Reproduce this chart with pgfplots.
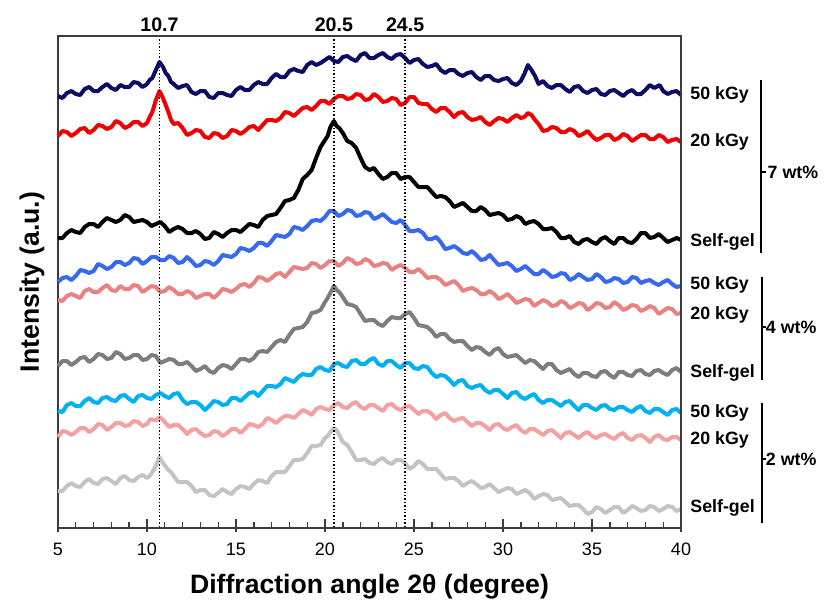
\documentclass[border=0pt]{standalone}
\usepackage{pgfplots}
\pgfplotsset{compat=1.18}
\usepackage{fontspec}
\setmainfont{Liberation Sans}
\definecolor{cnavy}{RGB}{12,12,100}
\definecolor{cred}{RGB}{240,0,0}
\definecolor{cblue}{RGB}{55,105,240}
\definecolor{csalmon}{RGB}{232,130,130}
\definecolor{cgray}{RGB}{125,125,125}
\definecolor{ccyan}{RGB}{0,176,240}
\definecolor{cpink}{RGB}{242,160,160}
\definecolor{clgray}{RGB}{195,195,195}
\definecolor{cframe}{RGB}{60,60,60}
\begin{document}
\begin{tikzpicture}
\path[use as bounding box] (-29pt,-36.5pt) rectangle (386pt,264pt);
\begin{axis}[
  name=main,
  at={(0,0)}, anchor=south west,
  scale only axis, width=311.5pt, height=246pt,
  xmin=5, xmax=40, ymin=36, ymax=528, y dir=reverse,
  clip=false,
  axis line style={line width=0.9pt, cframe},
  ytick=\empty,
  xtick={5,10,...,40}, minor x tick num=4,
  xtick pos=bottom,
  tick align=inside,
  major tick length=6.5pt, minor tick length=2.8pt,
  every major tick/.append style={yshift=-2.2pt, line width=0.8pt, cframe},
  every minor tick/.append style={line width=0.7pt, cframe},
  tick label style={font=\fontsize{9}{10}\selectfont},
  /pgf/number format/assume math mode=true,
  xticklabel style={yshift=-4pt},
  xlabel={\bfseries Diffraction angle 2θ (degree)},
  xlabel style={font=\fontsize{13.3}{15}\selectfont, at={(axis description cs:0.5,0)}, anchor=center, yshift=-29.5pt},
  ylabel={\bfseries Intensity (a.u.)},
  ylabel style={font=\fontsize{13.3}{15}\selectfont, at={(axis description cs:-0.0417,0.5)}, anchor=center},
  every axis plot/.append style={line width=2pt, line join=round, mark=none},
]
% 7 wt% 50 kGy
\addplot[cnavy] coordinates {(5,96)(5.25,98)(5.5,93)(5.75,91)(6,94)(6.25,95)(6.5,89)(6.75,87)(7,91)(7.25,91)(7.5,87)(7.75,84)(8,88)(8.25,90)(8.5,85)(8.75,87)(9,87)(9.25,82)(9.5,83)(9.75,87)(10,84)(10.15,80)(10.3,78)(10.5,70)(10.7,62)(10.9,67)(11.05,73)(11.2,76)(11.35,82)(11.5,84)(11.75,88)(12,86)(12.25,85)(12.5,92)(12.75,94)(13,91)(13.25,91)(13.5,97)(13.75,98)(14,93)(14.25,93)(14.5,95)(14.75,96)(15,90)(15.25,87)(15.5,90)(15.75,90)(16,85)(16.25,82)(16.5,84)(16.75,84)(17,78)(17.25,74)(17.5,77)(17.75,77)(18,71)(18.25,69)(18.5,71)(18.75,72)(19,65)(19.25,62)(19.5,65)(19.75,63)(20,60)(20.25,57)(20.5,61)(20.75,62)(21,57)(21.25,56)(21.5,59)(21.75,61)(22,55)(22.25,53)(22.5,58)(22.75,58)(23,55)(23.25,53)(23.5,57)(23.75,59)(24,55)(24.25,54)(24.5,58)(24.75,63)(25,60)(25.25,59)(25.5,64)(25.75,67)(26,66)(26.25,64)(26.5,70)(26.75,73)(27,70)(27.25,70)(27.5,74)(27.75,76)(28,73)(28.25,72)(28.5,77)(28.75,80)(29,76)(29.25,76)(29.5,80)(29.75,81)(30,79)(30.25,78)(30.5,83)(30.75,85)(31,81)(31.2,74)(31.4,65)(31.6,70)(31.8,76)(32,84)(32.25,81)(32.5,86)(32.75,88)(33,85)(33.25,85)(33.5,89)(33.75,92)(34,87)(34.25,86)(34.5,91)(34.75,93)(35,90)(35.25,89)(35.5,94)(35.75,95)(36,91)(36.25,90)(36.5,93)(36.75,96)(37,92)(37.25,90)(37.5,94)(37.75,94)(38,90)(38.25,85)(38.5,88)(38.8,85)(39,91)(39.25,94)(39.5,92)(39.75,91)(40,95)};
% 7 wt% 20 kGy
\addplot[cred] coordinates {(5,136)(5.25,131)(5.5,132)(5.75,136)(6,133)(6.25,129)(6.5,128)(6.75,133)(7,130)(7.25,125)(7.5,126)(7.75,129)(8,127)(8.25,121)(8.5,123)(8.75,128)(9,126)(9.25,122)(9.5,122)(9.75,126)(10,123)(10.15,117)(10.3,112)(10.5,100)(10.7,91)(10.9,98)(11.2,112)(11.35,120)(11.5,124)(11.75,123)(12,128)(12.25,135)(12.5,133)(12.75,130)(13,131)(13.25,137)(13.5,138)(13.75,133)(14,134)(14.25,138)(14.5,136)(14.75,130)(15,131)(15.25,134)(15.5,131)(15.75,127)(16,126)(16.25,130)(16.5,125)(16.75,120)(17,120)(17.25,121)(17.5,118)(17.75,112)(18,113)(18.25,116)(18.5,112)(18.75,108)(19,107)(19.25,110)(19.5,106)(19.75,101)(20,101)(20.25,104)(20.5,99)(20.75,96)(21,96)(21.25,99)(21.5,98)(21.75,94)(22,95)(22.25,100)(22.5,99)(22.75,94)(23,97)(23.25,102)(23.5,101)(23.75,98)(24,99)(24.25,105)(24.5,103)(24.75,97)(25,97)(25.25,103)(25.5,104)(25.75,104)(26,109)(26.25,112)(26.5,108)(26.75,108)(27,112)(27.25,117)(27.5,113)(27.75,112)(28,117)(28.25,120)(28.5,119)(28.75,117)(29,122)(29.25,125)(29.5,121)(29.75,118)(30,119)(30.25,122)(30.5,118)(30.75,115)(31,118)(31.2,117)(31.4,113)(31.6,115)(31.8,120)(32,124)(32.25,131)(32.5,130)(32.75,127)(33,128)(33.25,132)(33.5,132)(33.75,129)(34,131)(34.25,136)(34.5,134)(34.75,131)(35,136)(35.25,140)(35.5,138)(35.75,135)(36,135)(36.25,140)(36.5,138)(36.75,134)(37,136)(37.25,141)(37.5,138)(37.75,135)(38,135)(38.25,139)(38.5,139)(38.75,135)(39,137)(39.25,142)(39.5,140)(39.75,139)(40,142)};
% 7 wt% self-gel
\addplot[black] coordinates {(5,238)(5.25,238)(5.5,233)(5.75,230)(6,232)(6.25,233)(6.5,227)(6.75,224)(7,224)(7.25,227)(7.5,222)(7.75,218)(8,220)(8.25,222)(8.5,220)(8.75,215)(9,217)(9.25,222)(9.5,221)(9.75,220)(10,222)(10.25,226)(10.5,224)(10.75,222)(11,226)(11.25,232)(11.5,229)(11.75,227)(12,229)(12.25,233)(12.5,233)(12.75,231)(13,234)(13.25,239)(13.5,238)(13.75,232)(14,234)(14.25,237)(14.5,233)(14.75,230)(15,230)(15.25,232)(15.5,228)(15.75,224)(16,225)(16.25,227)(16.5,220)(16.75,216)(17,215)(17.25,214)(17.5,208)(17.75,201)(18,200)(18.25,198)(18.5,190)(18.75,179)(19,175)(19.25,170)(19.5,158)(19.75,147)(20,140)(20.15,136)(20.3,127)(20.5,121)(20.65,126)(20.8,128)(21,133)(21.25,141)(21.5,143)(21.75,148)(22,158)(22.25,167)(22.5,170)(22.75,168)(23,174)(23.25,179)(23.5,177)(23.75,173)(24,173)(24.25,179)(24.5,177)(24.75,177)(25,182)(25.25,187)(25.5,187)(25.75,187)(26,192)(26.25,197)(26.5,196)(26.75,197)(27,201)(27.25,207)(27.5,205)(27.75,203)(28,207)(28.25,211)(28.5,211)(28.75,207)(29,210)(29.25,215)(29.5,214)(29.75,213)(30,215)(30.25,220)(30.5,219)(30.75,216)(31,218)(31.25,224)(31.5,222)(31.75,221)(32,224)(32.25,229)(32.5,229)(32.75,228)(33,232)(33.25,238)(33.5,238)(33.75,236)(34,242)(34.25,244)(34.5,240)(34.75,239)(35,242)(35.25,244)(35.5,239)(35.75,237)(36,241)(36.25,244)(36.5,238)(36.75,238)(37,242)(37.25,243)(37.5,239)(37.75,233)(38,233)(38.25,238)(38.5,237)(38.75,234)(39,238)(39.25,242)(39.5,240)(39.75,238)(40,240)};
% 4 wt% 50 kGy
\addplot[cblue] coordinates {(5,282)(5.25,278)(5.5,277)(5.75,280)(6,276)(6.25,270)(6.5,271)(6.75,273)(7,271)(7.25,264)(7.5,266)(7.75,269)(8,267)(8.25,262)(8.5,262)(8.75,265)(9,263)(9.25,258)(9.5,259)(9.75,264)(10,261)(10.25,257)(10.5,257)(10.75,260)(11,260)(11.25,256)(11.5,258)(11.75,263)(12,262)(12.25,257)(12.5,261)(12.75,266)(13,265)(13.25,261)(13.5,262)(13.75,265)(14,261)(14.25,255)(14.5,256)(14.75,257)(15,254)(15.25,248)(15.5,249)(15.75,251)(16,248)(16.25,243)(16.5,243)(16.75,246)(17,241)(17.25,235)(17.5,236)(17.75,237)(18,234)(18.25,227)(18.5,228)(18.75,230)(19,226)(19.25,221)(19.5,220)(19.75,221)(20,217)(20.25,211)(20.5,211)(20.75,216)(21,214)(21.25,210)(21.5,211)(21.75,216)(22,215)(22.25,212)(22.5,213)(22.75,219)(23,217)(23.25,214)(23.5,218)(23.75,222)(24,223)(24.25,220)(24.5,225)(24.75,231)(25,231)(25.25,230)(25.5,233)(25.75,239)(26,239)(26.25,237)(26.5,242)(26.75,249)(27,248)(27.25,246)(27.5,249)(27.75,253)(28,254)(28.25,251)(28.5,255)(28.75,260)(29,259)(29.25,255)(29.5,260)(29.75,265)(30,264)(30.25,263)(30.5,266)(30.75,271)(31,269)(31.25,266)(31.5,270)(31.75,274)(32,274)(32.25,270)(32.5,273)(32.75,277)(33,276)(33.25,273)(33.5,274)(33.75,280)(34,278)(34.25,274)(34.5,277)(34.75,280)(35,279)(35.25,274)(35.5,277)(35.75,282)(36,281)(36.25,278)(36.5,279)(36.75,283)(37,282)(37.25,277)(37.5,278)(37.75,283)(38,281)(38.25,280)(38.5,283)(38.75,285)(39,282)(39.25,280)(39.5,284)(39.75,287)(40,286)};
% 4 wt% 20 kGy
\addplot[csalmon] coordinates {(5,300)(5.25,301)(5.5,296)(5.75,294)(6,296)(6.25,298)(6.5,291)(6.75,289)(7,292)(7.25,292)(7.5,288)(7.75,285)(8,290)(8.25,291)(8.5,286)(8.75,289)(9,289)(9.25,285)(9.5,286)(9.75,292)(10,289)(10.25,286)(10.5,287)(10.75,292)(11,291)(11.25,287)(11.5,290)(11.75,294)(12,294)(12.25,291)(12.5,293)(12.75,298)(13,296)(13.25,294)(13.5,294)(13.75,298)(14,294)(14.25,289)(14.5,290)(14.75,292)(15,289)(15.25,285)(15.5,284)(15.75,287)(16,283)(16.25,277)(16.5,278)(16.75,281)(17,278)(17.25,274)(17.5,273)(17.75,277)(18,272)(18.25,267)(18.5,268)(18.75,269)(19,268)(19.25,263)(19.5,264)(19.75,268)(20,265)(20.25,261)(20.5,261)(20.75,266)(21,263)(21.25,258)(21.5,260)(21.75,264)(22,263)(22.25,259)(22.5,261)(22.75,266)(23,265)(23.25,263)(23.5,264)(23.75,270)(24,267)(24.25,265)(24.5,268)(24.75,272)(25,272)(25.25,269)(25.5,273)(25.75,278)(26,277)(26.25,277)(26.5,280)(26.75,285)(27,283)(27.25,281)(27.5,285)(27.75,291)(28,289)(28.25,288)(28.5,290)(28.75,294)(29,294)(29.25,291)(29.5,294)(29.75,299)(30,297)(30.25,294)(30.5,298)(30.75,303)(31,301)(31.25,299)(31.5,300)(31.75,306)(32,303)(32.25,300)(32.5,302)(32.75,306)(33,305)(33.25,301)(33.5,303)(33.75,308)(34,306)(34.25,303)(34.5,304)(34.75,310)(35,307)(35.25,303)(35.5,304)(35.75,308)(36,307)(36.25,302)(36.5,305)(36.75,310)(37,308)(37.25,305)(37.5,306)(37.75,311)(38,309)(38.25,306)(38.5,308)(38.75,314)(39,311)(39.25,308)(39.5,309)(39.75,314)(40,313)};
% 4 wt% self-gel
\addplot[cgray] coordinates {(5,366)(5.25,361)(5.5,361)(5.75,365)(6,362)(6.25,358)(6.5,357)(6.75,362)(7,359)(7.25,354)(7.5,355)(7.75,359)(8,358)(8.25,352)(8.5,354)(8.75,359)(9,358)(9.25,355)(9.5,355)(9.75,360)(10,359)(10.25,355)(10.5,356)(10.75,363)(11,361)(11.25,359)(11.5,360)(11.75,364)(12,364)(12.25,362)(12.5,366)(12.75,371)(13,369)(13.25,366)(13.5,371)(13.75,373)(14,368)(14.25,365)(14.5,366)(14.75,369)(15,364)(15.25,359)(15.5,359)(15.75,361)(16,358)(16.25,352)(16.5,351)(16.75,352)(17,347)(17.25,342)(17.5,340)(17.75,342)(18,335)(18.25,329)(18.5,328)(18.75,327)(19,322)(19.25,313)(19.5,312)(19.75,310)(20,302)(20.15,298)(20.3,293)(20.5,286)(20.65,290)(20.8,292)(21,297)(21.25,304)(21.5,305)(21.75,307)(22,314)(22.25,321)(22.5,320)(22.75,320)(23,324)(23.25,326)(23.5,321)(23.75,317)(24,318)(24.25,318)(24.5,314)(24.75,312)(25,318)(25.25,325)(25.5,326)(25.75,327)(26,331)(26.25,337)(26.5,334)(26.75,334)(27,339)(27.25,342)(27.5,341)(27.75,341)(28,346)(28.25,350)(28.5,347)(28.75,348)(29,352)(29.25,355)(29.5,350)(29.75,348)(30,354)(30.25,357)(30.5,356)(30.75,355)(31,359)(31.25,363)(31.5,360)(31.75,361)(32,365)(32.25,369)(32.5,364)(32.75,364)(33,370)(33.25,373)(33.5,371)(33.75,369)(34,374)(34.25,377)(34.5,373)(34.75,373)(35,376)(35.25,377)(35.5,372)(35.75,371)(36,375)(36.25,378)(36.5,372)(36.75,372)(37,375)(37.25,376)(37.5,371)(37.75,370)(38,374)(38.25,375)(38.5,371)(38.75,370)(39,373)(39.25,375)(39.5,370)(39.75,368)(40,372)};
% 2 wt% 50 kGy
\addplot[ccyan] coordinates {(5,411)(5.25,412)(5.5,405)(5.75,403)(6,406)(6.25,406)(6.5,401)(6.75,398)(7,402)(7.25,403)(7.5,398)(7.75,397)(8,400)(8.25,401)(8.5,396)(8.75,395)(9,399)(9.25,402)(9.5,396)(9.75,395)(10,398)(10.25,399)(10.5,395)(10.75,393)(11,396)(11.25,398)(11.5,394)(11.75,393)(12,400)(12.25,404)(12.5,402)(12.75,402)(13,405)(13.25,410)(13.5,406)(13.75,401)(14,402)(14.25,405)(14.5,404)(14.75,398)(15,398)(15.25,401)(15.5,397)(15.75,393)(16,392)(16.25,396)(16.5,391)(16.75,386)(17,386)(17.25,387)(17.5,384)(17.75,378)(18,380)(18.25,382)(18.5,377)(18.75,374)(19,375)(19.25,375)(19.5,369)(19.75,367)(20,370)(20.25,371)(20.5,364)(20.75,363)(21,366)(21.25,367)(21.5,361)(21.75,360)(22,364)(22.25,364)(22.5,360)(22.75,358)(23,364)(23.25,366)(23.5,361)(23.75,361)(24,365)(24.25,368)(24.5,363)(24.75,363)(25,368)(25.25,369)(25.5,366)(25.75,367)(26,373)(26.25,377)(26.5,375)(26.75,376)(27,380)(27.25,385)(27.5,381)(27.75,380)(28,386)(28.25,388)(28.5,386)(28.75,385)(29,390)(29.25,393)(29.5,390)(29.75,390)(30,394)(30.25,398)(30.5,393)(30.75,392)(31,397)(31.25,399)(31.5,396)(31.75,394)(32,400)(32.25,403)(32.5,400)(32.75,400)(33,403)(33.25,406)(33.5,402)(33.75,401)(34,406)(34.25,410)(34.5,405)(34.75,405)(35,408)(35.25,410)(35.5,406)(35.75,405)(36,409)(36.25,410)(36.5,407)(36.75,407)(37,410)(37.25,412)(37.5,408)(37.75,406)(38,411)(38.25,413)(38.5,409)(38.75,409)(39,412)(39.25,415)(39.5,410)(39.75,409)(40,413)};
% 2 wt% 20 kGy
\addplot[cpink] coordinates {(5,437)(5.25,431)(5.5,432)(5.75,435)(6,432)(6.25,428)(6.5,428)(6.75,432)(7,429)(7.25,424)(7.5,425)(7.75,430)(8,427)(8.25,423)(8.5,423)(8.75,426)(9,425)(9.25,421)(9.5,422)(9.75,426)(10,424)(10.2,419)(10.4,420)(10.55,420)(10.7,417)(10.85,419)(11,422)(11.25,427)(11.5,425)(11.75,425)(12,429)(12.25,434)(12.5,430)(12.75,429)(13,433)(13.25,436)(13.5,435)(13.75,431)(14,432)(14.25,436)(14.5,433)(14.75,429)(15,429)(15.25,433)(15.5,429)(15.75,424)(16,425)(16.25,427)(16.5,424)(16.75,418)(17,420)(17.25,423)(17.5,419)(17.75,416)(18,416)(18.25,418)(18.5,414)(18.75,410)(19,412)(19.25,415)(19.5,409)(19.75,407)(20,409)(20.25,410)(20.5,405)(20.75,403)(21,407)(21.25,408)(21.5,404)(21.75,402)(22,407)(22.25,409)(22.5,405)(22.75,405)(23,408)(23.25,411)(23.5,405)(23.75,404)(24,408)(24.25,410)(24.5,407)(24.75,406)(25,410)(25.25,414)(25.5,411)(25.75,411)(26,414)(26.25,419)(26.5,415)(26.75,413)(27,418)(27.25,421)(27.5,419)(27.75,418)(28,422)(28.25,426)(28.5,423)(28.75,423)(29,426)(29.25,430)(29.5,425)(29.75,424)(30,428)(30.25,430)(30.5,427)(30.75,425)(31,430)(31.25,433)(31.5,429)(31.75,429)(32,432)(32.25,435)(32.5,431)(32.75,430)(33,434)(33.25,438)(33.5,433)(33.75,432)(34,435)(34.25,438)(34.5,434)(34.75,432)(35,436)(35.25,438)(35.5,435)(35.75,434)(36,437)(36.25,439)(36.5,435)(36.75,433)(37,438)(37.25,440)(37.5,436)(37.75,435)(38,438)(38.25,442)(38.5,437)(38.75,435)(39,439)(39.25,440)(39.5,437)(39.75,437)(40,440)};
% 2 wt% self-gel
\addplot[clgray] coordinates {(5,491)(5.25,491)(5.5,486)(5.75,483)(6,486)(6.25,487)(6.5,482)(6.75,479)(7,483)(7.25,484)(7.5,479)(7.75,478)(8,481)(8.25,484)(8.5,478)(8.75,476)(9,480)(9.25,481)(9.5,477)(9.75,475)(10,478)(10.15,476)(10.3,472)(10.5,466)(10.7,457)(10.9,463)(11.2,470)(11.35,472)(11.5,476)(11.75,482)(12,482)(12.25,482)(12.5,486)(12.75,492)(13,490)(13.25,490)(13.5,495)(13.75,496)(14,493)(14.25,489)(14.5,492)(14.75,494)(15,489)(15.25,486)(15.5,487)(15.75,489)(16,484)(16.25,480)(16.5,481)(16.75,483)(17,476)(17.25,472)(17.5,472)(17.75,472)(18,466)(18.25,460)(18.5,460)(18.75,459)(19,453)(19.25,446)(19.5,446)(19.75,445)(20,438)(20.15,436)(20.3,432)(20.5,428)(20.65,430)(20.8,435)(21,442)(21.25,445)(21.5,452)(21.75,460)(22,460)(22.25,459)(22.5,463)(22.75,464)(23,460)(23.25,458)(23.5,462)(23.75,464)(24,460)(24.25,460)(24.5,463)(24.75,469)(25,466)(25.25,461)(25.5,464)(25.75,469)(26,469)(26.25,469)(26.5,474)(26.75,479)(27,478)(27.25,478)(27.5,481)(27.75,486)(28,483)(28.25,481)(28.5,484)(28.75,488)(29,487)(29.25,484)(29.5,488)(29.75,492)(30,490)(30.25,488)(30.5,489)(30.75,494)(31,492)(31.25,490)(31.5,493)(31.75,499)(32,496)(32.25,494)(32.5,495)(32.75,500)(33,499)(33.25,498)(33.5,502)(33.75,506)(34,505)(34.25,505)(34.5,509)(34.75,514)(35,512)(35.25,507)(35.5,509)(35.75,513)(36,510)(36.25,507)(36.5,507)(36.75,513)(37,510)(37.25,506)(37.5,508)(37.75,511)(38,510)(38.25,506)(38.5,507)(38.75,511)(39,509)(39.25,506)(39.5,507)(39.75,511)(40,509)};
% reference lines
\addplot[black, line width=0.7pt, densely dotted] coordinates {(10.7,36) (10.7,528)};
\addplot[black, line width=0.7pt, densely dotted] coordinates {(20.5,36) (20.5,528)};
\addplot[black, line width=0.7pt, densely dotted] coordinates {(24.5,36) (24.5,528)};
\begin{scope}[font=\fontsize{9.8}{11}\selectfont\bfseries]
\node at (axis cs:10.7,25) {10.7};
\node at (axis cs:20.5,25) {20.5};
\node at (axis cs:24.5,25) {24.5};
\end{scope}
\begin{scope}[every node/.style={font=\fontsize{8.9}{10}\selectfont\bfseries, anchor=west, inner sep=0pt}]
\node at ([xshift=4.5pt]axis cs:40,95) {50 kGy};
\node at ([xshift=4.5pt]axis cs:40,142) {20 kGy};
\node at ([xshift=4.5pt]axis cs:40,242) {Self-gel};
\node at ([xshift=4.5pt]axis cs:40,285) {50 kGy};
\node at ([xshift=4.5pt]axis cs:40,315) {20 kGy};
\node at ([xshift=4.5pt]axis cs:40,373) {Self-gel};
\node at ([xshift=4.5pt]axis cs:40,413) {50 kGy};
\node at ([xshift=4.5pt]axis cs:40,440) {20 kGy};
\node at ([xshift=4.5pt]axis cs:40,508) {Self-gel};
\draw[line width=0.8pt] (axis cs:44.5,80) -- (axis cs:44.5,253);
\draw[line width=0.8pt] (axis cs:44.5,172) -- (axis cs:44.75,172);
\node at (axis cs:44.85,172) {7 wt\%};
\draw[line width=0.8pt] (axis cs:44.55,277) -- (axis cs:44.55,380);
\draw[line width=0.8pt] (axis cs:44.55,327) -- (axis cs:44.75,327);
\node at (axis cs:44.75,327) {4 wt\%};
\draw[line width=0.8pt] (axis cs:44.55,403) -- (axis cs:44.55,523);
\draw[line width=0.8pt] (axis cs:44.55,459) -- (axis cs:44.75,459);
\node at (axis cs:44.75,459) {2 wt\%};
\end{scope}
\end{axis}
\draw[line width=0.9pt, cframe] (main.north west) -- (main.north east) -- (main.south east);
\end{tikzpicture}
\end{document}
